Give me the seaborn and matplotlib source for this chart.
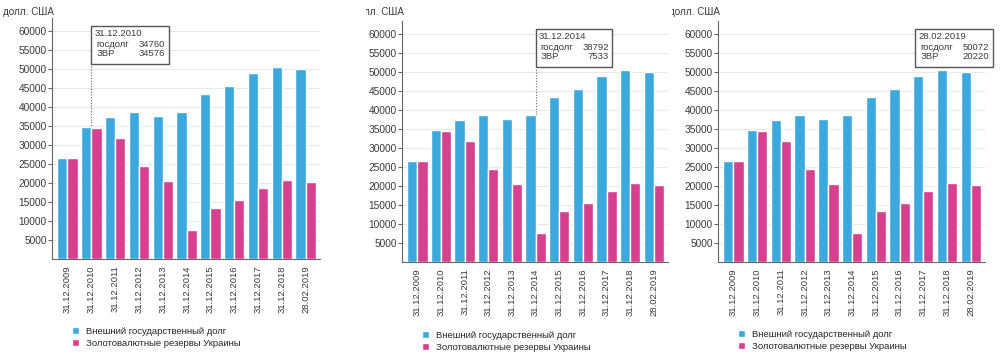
import numpy as np
import pandas as pd
import matplotlib
matplotlib.use("Agg")
import matplotlib.pyplot as plt
from matplotlib.patches import Rectangle
from matplotlib.transforms import Bbox
import seaborn as sns

sns.set_style("white")
plt.rcParams['font.family'] = ['Liberation Sans', 'DejaVu Sans']

# data (mln USD)
dates = ["31.12.2009", "31.12.2010", "31.12.2011", "31.12.2012", "31.12.2013",
         "31.12.2014", "31.12.2015", "31.12.2016", "31.12.2017", "31.12.2018",
         "28.02.2019"]
debt = [26500, 34760, 37400, 38700, 37500, 38792, 43500, 45600, 48900, 50400, 50072]
reserves = [26505, 34576, 31800, 24500, 20400, 7533, 13300, 15500, 18700, 20800, 20220]
series_names = ["Внешний государственный долг", "Золотовалютные резервы Украины"]
tip_idx = [1, 5, 10]   # hovered date in each of the three panels

df = pd.DataFrame({
    "date": dates * 2,
    "value": debt + reserves,
    "series": [series_names[0]] * len(dates) + [series_names[1]] * len(dates),
})

W, H = 1000, 354
fig = plt.figure(figsize=(W / 100, H / 100), dpi=100)

# pixel layout of the three screenshots
panels = [
    dict(left=52, right=320, bottom=259, clip=(0, 340), box=(1.0, 4.25), line=True, leg=327),
    dict(left=402, right=668, bottom=262, clip=(366, 672), box=(5.0, 8.25), line=True, leg=331),
    dict(left=718, right=985, bottom=262, clip=(672, 1000), box=(7.65, 10.92), line=False, leg=330),
]
ytop = 63400
px_per = 3.8 / 1000
blue, pink = "#3ba9dd", "#d6408f"
axcol, txtcol = "#666666", "#3a3a3a"
fs_tick, fs_small = 7.3, 6.8

for p, ti in zip(panels, tip_idx):
    h = ytop * px_per
    ax = fig.add_axes([p['left'] / W, (H - p['bottom']) / H,
                       (p['right'] - p['left']) / W, h / H])
    sns.barplot(data=df, x="date", y="value", hue="series", palette=[blue, pink],
                width=0.86, saturation=1, ax=ax, zorder=3)
    ax.set_xlim(-0.65, 10.6)
    ax.set_ylim(0, ytop)
    ax.set_yticks(range(5000, 60001, 5000))
    ax.yaxis.grid(True, color="#e8e8e8", lw=0.8, zorder=0)
    ax.set_axisbelow(True)
    for s in ["top", "right"]:
        ax.spines[s].set_visible(False)
    for s in ["left", "bottom"]:
        ax.spines[s].set_color(axcol)
        ax.spines[s].set_linewidth(0.8)
    ax.tick_params(axis='y', length=3, width=0.8, color=axcol, labelsize=fs_tick,
                   labelcolor=txtcol, pad=0.8, left=True)
    ax.tick_params(axis='x', rotation=90, length=0, labelsize=fs_small,
                   labelcolor=txtcol, pad=4.5)
    ax.set_xlabel("")
    ax.set_ylabel("")

    handles, labels = ax.get_legend_handles_labels()
    ax.legend(handles, labels, loc='upper left',
              bbox_to_anchor=((p['left'] + 20) / W, (H - p['leg']) / H),
              bbox_transform=fig.transFigure, frameon=False, fontsize=fs_small,
              handlelength=0.74, handleheight=0.74, handletextpad=0.74,
              labelspacing=0.27, borderpad=0, borderaxespad=0)

    # tooltip
    b0, b1 = p['box']
    ax.add_patch(Rectangle((b0, 51300), b1 - b0, 9900, facecolor="white",
                           edgecolor="#555555", lw=1, clip_on=False, zorder=5))
    ax.text(b0 + 0.14, 59350, dates[ti], fontsize=fs_small, color=txtcol,
            va="center", zorder=6, clip_on=False)
    ax.text(b0 + 0.22, 56450, "госдолг", fontsize=fs_small, color=txtcol,
            va="center", zorder=6, clip_on=False)
    ax.text(b0 + 0.22, 54100, "ЗВР", fontsize=fs_small, color=txtcol,
            va="center", zorder=6, clip_on=False)
    ax.text(b1 - 0.15, 56450, str(debt[ti]), fontsize=fs_small, color=txtcol,
            va="center", ha="right", zorder=6, clip_on=False)
    ax.text(b1 - 0.15, 54100, str(reserves[ti]), fontsize=fs_small, color=txtcol,
            va="center", ha="right", zorder=6, clip_on=False)
    if p['line']:
        ax.plot([ti, ti], [0, 51300], ls=(0, (1, 1.5)), color=axcol, lw=0.8, zorder=2)

    # unit label, cut by the screenshot edge
    t = fig.text((p['left'] - 49) / W, (H - 12) / H, "долл. США", fontsize=7.1,
                 color=txtcol, va="center")
    t.set_clip_box(Bbox.from_extents(p['clip'][0], 0, p['clip'][1], H))
    t.set_clip_on(True)

fig.savefig("out.png", dpi=100)
